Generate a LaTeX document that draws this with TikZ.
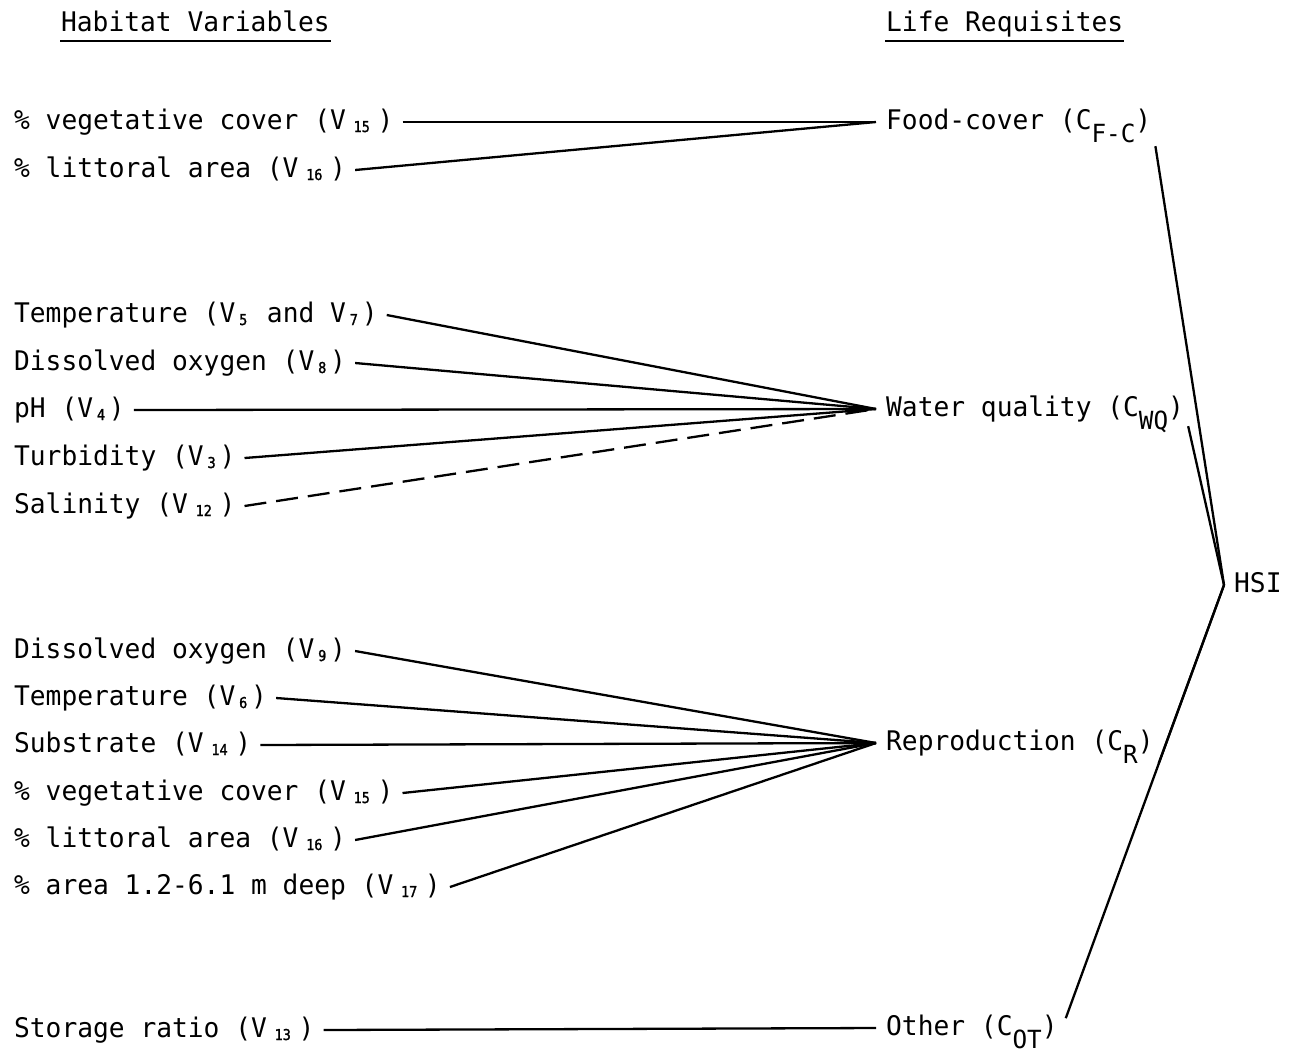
\documentclass[tikz,border=0pt]{standalone}
\usepackage{fontspec}
\newfontfamily\typefont[FakeStretch=0.972]{DejaVu Sans Mono}
\newfontfamily\vsubfont[FakeStretch=0.9,FakeBold=1.5]{DejaVu Sans Mono}
\newlength\vcell
\setlength\vcell{15.8pt}
% typewriter subscripts: small digits in whole cells, letters a half line down
\newcommand\vs[2][1]{\raisebox{-3pt}{\makebox[#1\vcell][c]{\vsubfont\fontsize{15}{15}\selectfont #2}}}
\newcommand\cs[1]{\raisebox{-13pt}{\fontsize{25}{25}\selectfont #1}}
\usetikzlibrary{positioning}

\begin{document}
\begin{tikzpicture} [
						x=1pt, y=-1pt,
						var/.style={anchor=west, inner xsep=8pt, inner ysep=0pt, text height=14pt, text depth=0pt, font=\typefont\fontsize{27}{27}\selectfont},
						req/.style={var, inner xsep=9pt},
						every path/.style={line width=2.3pt}
					]

\useasboundingbox (0,0) rectangle (1289,1053);

% column heads
\node (hab) [var, inner xsep=0pt] at (60,24) {Habitat Variables};
\node (lif) [var, inner xsep=0pt] at (885,24) {Life Requisites};
\draw [line width=1.6pt] ([yshift=-9pt]hab.south west) -- ([yshift=-9pt]hab.south east);
\draw [line width=1.6pt] ([yshift=-9pt]lif.south west) -- ([yshift=-9pt]lif.south east);

% life requisites
\node (fc)  [req] at (876,122)  {Food-cover (C\cs{F-C})};
\node (wq)  [req] at (876,409)  {Water quality (C\cs{WQ})};
\node (cr)  [req] at (876,743)  {Reproduction (C\cs{R})};
\node (ot)  [req] at (876,1028) {Other (C\cs{OT})};
\node (hsi) [req] at (1224,585) {HSI};

% habitat variables
\node (fveg) [var] at (5,122) {\% vegetative cover (V\vs[2]{15})};
\node (flit) [var] at (5,170) {\% littoral area (V\vs[2]{16})};

\node (wtmp) [var] at (5,315) {Temperature (V\vs{5} and V\vs{7})};
\node (wdo)  [var] at (5,363) {Dissolved oxygen (V\vs{8})};
\node (wph)  [var] at (5,410) {pH (V\vs{4})};
\node (wtur) [var] at (5,458) {Turbidity (V\vs{3})};
\node (wsal) [var] at (5,506) {Salinity (V\vs[2]{12})};

\node (rdo)  [var] at (5,651) {Dissolved oxygen (V\vs{9})};
\node (rtmp) [var] at (5,698) {Temperature (V\vs{6})};
\node (rsub) [var] at (5,745) {Substrate (V\vs[2]{14})};
\node (rveg) [var] at (5,793) {\% vegetative cover (V\vs[2]{15})};
\node (rlit) [var] at (5,840) {\% littoral area (V\vs[2]{16})};
\node (rdep) [var] at (5,887) {\% area 1.2-6.1 m deep (V\vs[2]{17})};

\node (sto)  [var] at (5,1030) {Storage ratio (V\vs[2]{13})};

\draw (fveg.east) -- (fc.west);
\draw (flit.east) -- (fc.west);

\draw (wtmp.east) -- (wq.west);
\draw (wdo.east)  -- (wq.west);
\draw (wph.east)  -- (wq.west);
\draw (wtur.east) -- (wq.west);
\draw [dash pattern=on 22pt off 10pt] (wsal.east) -- (wq.west);

\draw (rdo.east)  -- (cr.west);
\draw (rtmp.east) -- (cr.west);
\draw (rsub.east) -- (cr.west);
\draw (rveg.east) -- (cr.west);
\draw (rlit.east) -- (cr.west);
\draw (rdep.east) -- (cr.west);

\draw (sto.east) -- (ot.west);

% to the index
\draw ([xshift=-6pt,yshift=-16pt]fc.south east) -- (hsi.west);
\draw ([xshift=-6pt,yshift=-9pt]wq.south east)  -- (hsi.west);
\draw ([xshift=-5pt,yshift=-12pt]cr.south east) -- (hsi.west);
\draw ([xshift=-2pt,yshift=18pt]ot.south east)  -- (hsi.west);

\end{tikzpicture}
\end{document}
